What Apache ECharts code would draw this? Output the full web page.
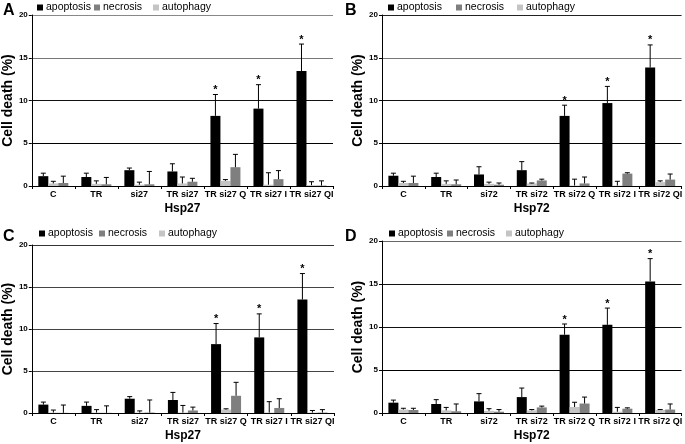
<!DOCTYPE html>
<html><head><meta charset="utf-8">
<script src="https://cdn.jsdelivr.net/npm/echarts@6/dist/echarts.min.js"></script>
<style>html,body{margin:0;padding:0;background:#fff}#c{width:685px;height:444px}</style>
</head><body><div id="c"></div>
<script>
const categories27 = ['C','TR','si27','TR si27','TR si27 Q','TR si27 I','TR si27 QI'];
const categories72 = ['C','TR','si72','TR si72','TR si72 Q','TR si72 I','TR si72 QI'];
const yTicks = [0,5,10,15,20];
const stars = [0,0,0,0,1,1,1];

const A_apoptosis = [1.15,1.05,1.85,1.7,8.2,9.05,13.45];
const A_apoptosisSD = [0.35,0.45,0.25,0.9,2.5,2.8,3.15];
const A_autophagy = [0.3,0.25,0.15,0.3,0.6,0.15,0.1];
const A_autophagySD = [0.25,0.35,0.3,0.75,0.15,1.4,0.4];
const A_necrosis = [0.35,0.2,0.2,0.5,2.2,0.8,0.05];
const A_necrosisSD = [0.8,0.8,1.5,0.4,1.5,1.0,0.55];

const B_apoptosis = [1.2,1.05,1.35,1.85,8.2,9.7,13.85];
const B_apoptosisSD = [0.3,0.45,0.9,1.0,1.25,1.95,2.65];
const B_autophagy = [0.35,0.25,0.25,0.3,0.05,0.05,0.45];
const B_autophagySD = [0.2,0.35,0.2,0.05,0.75,0.5,0.15];
const B_necrosis = [0.35,0.2,0.15,0.65,0.3,1.45,0.75];
const B_necrosisSD = [0.8,0.5,0.2,0.15,0.75,0.1,0.65];

const C_apoptosis = [1.0,0.85,1.7,1.55,8.2,9.0,13.5];
const C_apoptosisSD = [0.3,0.45,0.25,0.9,2.45,2.8,3.1];
const C_autophagy = [0.05,0.05,0.05,0.05,0.4,0.05,0.05];
const C_autophagySD = [0.3,0.35,0.2,0.85,0.1,1.3,0.25];
const C_necrosis = [0.02,0.02,0.05,0.3,2.05,0.6,0.05];
const C_necrosisSD = [0.93,0.83,1.5,0.4,1.6,1.1,0.35];

const D_apoptosis = [1.2,1.05,1.35,1.85,9.1,10.25,15.3];
const D_apoptosisSD = [0.3,0.5,0.9,1.05,1.25,1.95,2.65];
const D_autophagy = [0.4,0.3,0.25,0.3,0.7,0.15,0.35];
const D_autophagySD = [0.15,0.35,0.25,0.1,0.55,0.5,0.05];
const D_necrosis = [0.35,0.2,0.15,0.65,1.1,0.5,0.4];
const D_necrosisSD = [0.2,0.85,0.25,0.15,0.75,0.1,0.65];

const FONT = 'Liberation Sans, Arial, sans-serif';
const COL = {apoptosis:'#000000', necrosis:'#7f7f7f', autophagy:'#c4c4c4'};
const BW = 10;

const panels = [
  {letter:'A', cats:categories27, name:'Hsp27', grid:{left:31,top:15,right:352,bottom:258},
   apo:A_apoptosis, apoSD:A_apoptosisSD, aut:A_autophagy, autSD:A_autophagySD, nec:A_necrosis, necSD:A_necrosisSD,
   legX:[37,94,153], legY:0, letterPos:[3,3], split:['#000','#000','#111','#777','#888']},
  {letter:'B', cats:categories72, name:'Hsp72', grid:{left:382,top:15,right:1,bottom:258},
   apo:B_apoptosis, apoSD:B_apoptosisSD, aut:B_autophagy, autSD:B_autophagySD, nec:B_necrosis, necSD:B_necrosisSD,
   legX:[388,456,517], legY:0, letterPos:[345,3], split:['#000','#000','#111','#777','#222']},
  {letter:'C', cats:categories27, name:'Hsp27', grid:{left:31,top:245,right:351,bottom:31},
   apo:C_apoptosis, apoSD:C_apoptosisSD, aut:C_autophagy, autSD:C_autophagySD, nec:C_necrosis, necSD:C_necrosisSD,
   legX:[39,99,159], legY:226, letterPos:[3,229], split:['#000','#444','#444','#444','#333']},
  {letter:'D', cats:categories72, name:'Hsp72', grid:{left:382,top:241,right:1,bottom:31},
   apo:D_apoptosis, apoSD:D_apoptosisSD, aut:D_autophagy, autSD:D_autophagySD, nec:D_necrosis, necSD:D_necrosisSD,
   legX:[389,447,506], legY:226, letterPos:[345,229], split:['#000','#000','#111','#111','#666']}
];

const option = {animation:false, grid:[], xAxis:[], yAxis:[], series:[], legend:[], title:[]};

function errSeries(gi, vals, sds, offset, withStars){
  return {
    type:'custom', xAxisIndex:gi, yAxisIndex:gi, z:5, silent:true,
    data: vals.map((v,i)=>[i, v, v+sds[i], withStars ? stars[i] : 0]),
    renderItem:function(params, api){
      const i = api.value(0);
      const p0 = api.coord([i, api.value(1)]);
      const p1 = api.coord([i, api.value(2)]);
      const x = p0[0] + offset;
      const children = [
        {type:'line', shape:{x1:x,y1:p0[1],x2:x,y2:p1[1]}, style:{stroke:'#000',lineWidth:1}},
        {type:'line', shape:{x1:x-2.5,y1:p1[1],x2:x+2.5,y2:p1[1]}, style:{stroke:'#000',lineWidth:1}}
      ];
      if (api.value(3)) {
        children.push({type:'text', style:{text:'*', x:x, y:p1[1]-10, align:'center', verticalAlign:'top', font:'bold 11px '+FONT, fill:'#000'}});
      }
      return {type:'group', children:children};
    }
  };
}

panels.forEach((p, gi)=>{
  option.grid.push(p.grid);
  option.xAxis.push({
    type:'category', gridIndex:gi, data:p.cats, name:p.name, nameLocation:'middle', nameGap:17,
    nameTextStyle:{fontFamily:FONT, fontWeight:'bold', fontSize:12, color:'#000'},
    axisLine:{lineStyle:{color:'#000',width:1}},
    axisTick:{show:true, length:3, lineStyle:{color:'#000'}},
    axisLabel:{interval:0, fontFamily:FONT, fontWeight:'bold', fontSize:9, color:'#000', margin:4}
  });
  option.yAxis.push({
    type:'value', gridIndex:gi, min:0, max:20, interval:5, name:'Cell death (%)', nameLocation:'middle', nameGap:15,
    nameTextStyle:{fontFamily:FONT, fontWeight:'bold', fontSize:14, color:'#000'},
    axisLine:{show:true, lineStyle:{color:'#000',width:1}},
    axisTick:{show:true, length:3, lineStyle:{color:'#000'}},
    axisLabel:{fontFamily:FONT, fontWeight:'bold', fontSize:8, color:'#000', margin:4,
      formatter:v=>yTicks.includes(v)?String(v):''},
    splitLine:{show:true, lineStyle:{color:p.split, width:1}}
  });
  const names = ['apoptosis','autophagy','necrosis'];
  const vals = [p.apo, p.aut, p.nec];
  const sds = [p.apoSD, p.autSD, p.necSD];
  names.forEach((n, k)=>{
    option.series.push({type:'bar', name:n, xAxisIndex:gi, yAxisIndex:gi, data:vals[k], barWidth:BW, barGap:'0%',
      itemStyle:{color:COL[n]}, z:2});
  });
  names.forEach((n, k)=>{
    option.series.push(errSeries(gi, vals[k], sds[k], (k-1)*BW, k===0));
  });
  ['apoptosis','necrosis','autophagy'].forEach((n, k)=>{
    option.legend.push({data:[{name:n, itemStyle:{color:COL[n]}}], left:p.legX[k], top:p.legY, orient:'horizontal',
      itemWidth:6, itemHeight:6, itemGap:4, icon:'rect', padding:[2,0,2,0], selectedMode:false,
      textStyle:{fontFamily:FONT, fontSize:10.5, color:'#000', padding:[0,0,0,-2]}});
  });
  option.title.push({text:p.letter, left:p.letterPos[0], top:p.letterPos[1], padding:0,
    textStyle:{fontFamily:FONT, fontWeight:'bold', fontSize:16, color:'#000'}});
});

const chart = echarts.init(document.getElementById('c'));
chart.setOption(option);
</script></body></html>
